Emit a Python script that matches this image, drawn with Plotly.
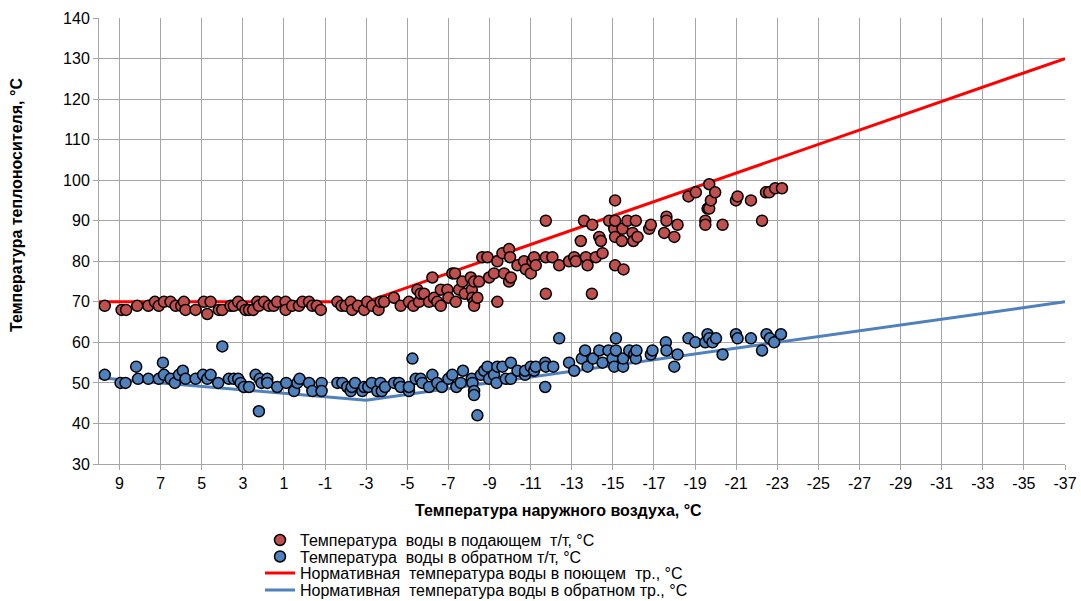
import plotly.graph_objects as go

# Measured supply water temperature vs outdoor air temperature
supply_x = [9.72, 8.9, 8.68, 8.14, 7.6, 7.28, 7.09, 6.84, 6.52, 6.27, 6.0, 5.87, 5.79, 5.3, 4.9,
            4.73, 4.57, 4.17, 4.0, 3.6, 3.44, 3.23, 3.03, 2.87, 2.7, 2.5, 2.3, 2.22, 1.97, 1.73,
            1.5, 1.33, 0.92, 0.92, 0.6, 0.27, 0.1, -0.22, -0.38, -0.6, -0.79, -1.6, -1.8, -2.0,
            -2.25, -2.32, -2.6, -2.9, -3.05, -3.3, -3.6, -3.7, -3.87, -4.35, -4.68, -5.08, -5.3,
            -5.49, -5.57, -5.65, -5.82, -6.06, -6.22, -6.3, -6.46, -6.63, -6.63, -6.95, -7.0,
            -7.19, -7.32, -7.36, -7.52, -7.68, -7.8, -8.09, -8.14, -8.17, -8.25, -8.25, -8.25,
            -8.41, -8.49, -8.65, -8.9, -8.98, -9.22, -9.38, -9.38, -9.63, -9.71, -9.95, -9.95,
            -10.0, -10.04, -10.36, -10.68, -10.77, -11.01, -11.09, -11.17, -11.25, -11.74, -11.74,
            -11.74, -12.06, -12.39, -12.87, -13.12, -13.2, -13.44, -13.6, -13.69, -13.77, -13.98,
            -14.0, -14.17, -14.34, -14.42, -14.5, -14.82, -15.07, -15.11, -15.11, -15.11, -15.11,
            -15.44, -15.47, -15.52, -15.71, -15.96, -16.0, -16.12, -16.2, -16.77, -16.85, -17.5,
            -17.61, -17.61, -17.99, -18.15, -18.68, -19.04, -19.5, -19.5, -19.61, -19.69, -19.69,
            -19.77, -19.98, -20.34, -20.99, -21.07, -21.72, -22.26, -22.45, -22.61, -22.9, -23.23]
supply_y = [69, 68, 68, 69, 69, 70, 69, 70, 70, 69, 69, 70, 68, 68, 70,
            67, 70, 68, 68, 69, 69, 70, 69, 68, 68, 68, 70, 69, 70, 69,
            69, 70, 70, 68, 69, 69, 70, 70, 69, 69, 68, 70, 69, 69,
            70, 68, 69, 68, 70, 69, 68, 70, 70, 71, 69, 70, 69,
            73, 70, 72, 72, 70, 76, 71, 70, 69, 73, 73, 71,
            77, 77, 70, 73, 75, 72, 76, 73, 71, 70, 69, 75,
            71, 75, 81, 81, 76, 77, 70, 80, 82, 77, 75, 83,
            81, 76, 79, 80, 78, 77, 80, 81, 79, 81, 90,
            72, 81, 79, 80, 81, 80, 85, 90, 81, 79, 72,
            89, 81, 86, 85, 82, 90, 88, 90, 95, 86, 79,
            85, 88, 78, 90, 87, 85, 90, 86, 88, 89, 87,
            91, 90, 86, 89, 96, 97, 90, 89, 93, 99, 93,
            95, 97, 89, 95, 96, 95, 90, 97, 97, 98, 98]

# Measured return water temperature vs outdoor air temperature
return_x = [9.72, 8.95, 8.71, 8.19, 8.1, 7.6, 7.09, 6.89, 6.84, 6.52, 6.31, 6.11, 5.92, 5.79,
            5.3, 4.94, 4.73, 4.57, 4.2, 4.0, 3.68, 3.44, 3.23, 3.11, 2.95, 2.7, 2.38, 2.22,
            2.18, 2.09, 1.81, 1.81, 1.33, 0.89, 0.51, 0.35, 0.24, -0.22, -0.38, -0.83, -0.83,
            -1.6, -1.84, -2.08, -2.25, -2.3, -2.46, -2.81, -2.9, -3.1, -3.27, -3.54, -3.7,
            -3.76, -3.92, -4.36, -4.6, -4.68, -5.08, -5.08, -5.25, -5.41, -5.65, -5.73, -6.06,
            -6.22, -6.46, -6.68, -7.0, -7.19, -7.39, -7.6, -7.71, -8.14, -8.17, -8.25, -8.25,
            -8.41, -8.58, -8.74, -8.9, -8.98, -9.22, -9.34, -9.38, -9.63, -9.79, -10.04, -10.04,
            -10.36, -10.73, -10.73, -11.01, -11.17, -11.25, -11.71, -11.74, -11.71, -12.1,
            -12.39, -12.87, -13.12, -13.49, -13.65, -13.77, -14.04, -14.34, -14.5, -14.79,
            -14.98, -15.07, -15.15, -15.15, -15.5, -15.5, -15.8, -16.04, -16.12, -16.15, -16.85,
            -16.93, -17.58, -17.61, -18.15, -17.99, -18.68, -19.01, -19.5, -19.61, -19.69,
            -19.85, -20.02, -20.34, -20.99, -21.07, -21.72, -22.26, -22.48, -22.64, -22.85,
            -23.18]
return_y = [52, 50, 50, 54, 51, 51, 51, 55, 52, 51, 50, 52, 53, 51,
            51, 52, 51, 52, 50, 59, 51, 51, 51, 50, 49, 49, 52, 43,
            51, 50, 51, 50, 49, 50, 48, 50, 51, 50, 48, 50, 48,
            50, 50, 49, 48, 49, 50, 48, 49, 49, 50, 48, 50,
            48, 49, 50, 50, 49, 48, 49, 56, 51, 51, 50, 49,
            52, 50, 49, 51, 52, 49, 50, 53, 51, 50, 48, 47,
            42, 52, 53, 54, 51, 52, 50, 54, 54, 51, 55, 51,
            53, 52, 53, 54, 53, 54, 55, 54, 49, 54,
            61, 55, 53, 56, 58, 54, 56, 58, 55, 58,
            56, 54, 61, 58, 54, 56, 58, 57, 56, 58, 57,
            58, 60, 58, 57, 54, 61, 60, 60, 62, 61,
            60, 61, 57, 62, 61, 61, 58, 62, 61, 60,
            62]

# Normative temperature schedule (break points)
norm_x = [10, -3, -37]
norm_supply = [70, 70, 130]
norm_return = [51.3, 45.7, 70]

x_ticks = list(range(9, -38, -2))
x_tick_labels = [str(v) for v in x_ticks]
y_ticks = list(range(30, 141, 10))

font_family = "Liberation Sans, Arial, sans-serif"
grid_color = "#A6A6A6"

# plot area in pixels
W, H = 1081, 601
L, R, T, B = 99, 16, 18, 137
PW, PH = W - L - R, H - T - B


def px_x(p):
    return (p - L) / PW


def px_y(p):
    return (H - B - p) / PH


fig = go.Figure()

fig.add_trace(go.Scatter(
    x=norm_x, y=norm_supply, mode="lines",
    name="Нормативная  температура воды в поющем  тр., °C",
    line=dict(color="#FF0000", width=3), legend="legend3"))
fig.add_trace(go.Scatter(
    x=norm_x, y=norm_return, mode="lines",
    name="Нормативная  температура воды в обратном тр., °C",
    line=dict(color="#4F81BD", width=3), legend="legend4"))
fig.add_trace(go.Scatter(
    x=supply_x, y=supply_y, mode="markers",
    name="Температура  воды в подающем  т/т, °C",
    marker=dict(size=11, color="#C0504D", line=dict(color="#000000", width=1.5)),
    legend="legend"))
fig.add_trace(go.Scatter(
    x=return_x, y=return_y, mode="markers",
    name="Температура  воды в обратном т/т, °C",
    marker=dict(size=11, color="#4F81BD", line=dict(color="#000000", width=1.5)),
    legend="legend2"))

legend_font = 16
row_centers = [540, 556.5, 573, 590]
item_h = max(legend_font * 1.3, 16) + 3
legend_defaults = dict(x=px_x(260), xanchor="left", yanchor="top",
                       bgcolor="rgba(0,0,0,0)", font=dict(size=legend_font),
                       itemwidth=30, borderwidth=0)
legends = {}
for i, key in enumerate(["legend", "legend2", "legend3", "legend4"]):
    legends[key] = dict(legend_defaults, y=px_y(row_centers[i] - item_h / 2 - 5))

fig.update_layout(
    width=W, height=H,
    margin=dict(l=L, r=R, t=T, b=B, autoexpand=False),
    paper_bgcolor="white", plot_bgcolor="white",
    font=dict(family=font_family, size=16, color="#000000"),
    showlegend=True,
    xaxis=dict(
        range=[10, -37], tickmode="array", tickvals=x_ticks, ticktext=x_tick_labels,
        showgrid=True, gridcolor=grid_color, gridwidth=1,
        showline=True, linecolor=grid_color, linewidth=1,
        ticks="outside", ticklen=5, tickcolor=grid_color,
        tickfont=dict(size=16), zeroline=False,
    ),
    yaxis=dict(
        range=[30, 140], tickmode="array", tickvals=y_ticks,
        showgrid=True, gridcolor=grid_color, gridwidth=1,
        showline=True, linecolor=grid_color, linewidth=1,
        ticks="outside", ticklen=5, tickcolor=grid_color,
        tickfont=dict(size=16), zeroline=False,
    ),
    annotations=[
        dict(text="<b>Температура наружного воздуха, °C</b>", xref="paper", yref="paper",
             x=px_x(558), y=px_y(510), xanchor="center", yanchor="middle",
             showarrow=False, font=dict(size=16)),
        dict(text="<b>Температура теплоносителя, °C</b>", xref="paper", yref="paper",
             x=px_x(16), y=px_y(205), xanchor="center", yanchor="middle",
             textangle=-90, showarrow=False, font=dict(size=16)),
    ],
    **legends,
)

fig.write_html("out.html")
